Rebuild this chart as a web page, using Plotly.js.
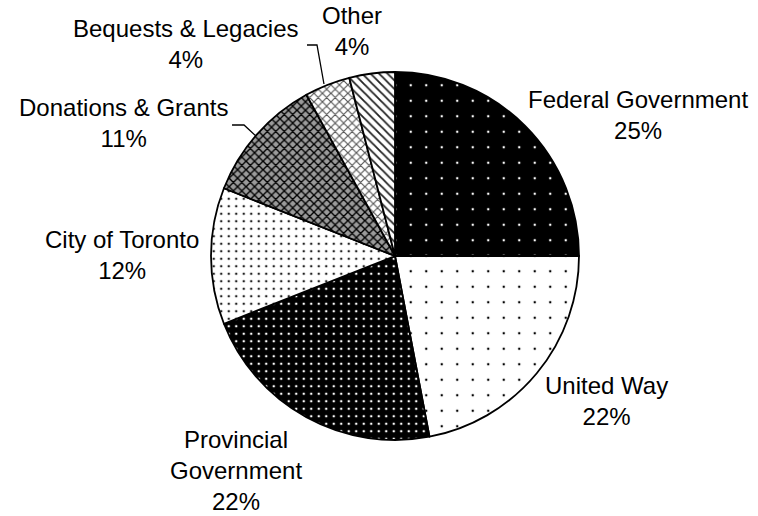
<!DOCTYPE html>
<html>
<head>
<meta charset="utf-8">
<script src="https://cdn.plot.ly/plotly-3.0.1.min.js"></script>
<style>html,body{margin:0;padding:0;background:#fff;}#chart{width:758px;height:516px;}</style>
</head>
<body>
<div id="chart"></div>
<script>
// Data
var categories = ["Federal Government", "United Way", "Provincial Government", "City of Toronto", "Donations & Grants", "Bequests & Legacies", "Other"];
var shares = [25, 22, 22, 12, 11, 4, 4];
// Label text (line breaks as in the reference)
var labelText = ["Federal Government", "United Way", "Provincial<br>Government", "City of Toronto", "Donations & Grants", "Bequests & Legacies", "Other"];

// Layout: label block centres in pixels (layout only)
var labelPos = [[638, 115], [606, 401], [236, 470], [122, 255], [123, 123], [185, 44], [352, 31]];

// Styles
var patShape = [".", ".", ".", ".", "x", "x", "\\"];
var patFg = ["#ffffff", "#000000", "#ffffff", "#222222", "#000000", "#555555", "#222222"];
var patBg = ["#000000", "#ffffff", "#000000", "#ffffff", "#9a9a9a", "#ffffff", "#ffffff"];
var patSize = [15.5, 15.5, 7.5, 7.5, 6, 6, 6];
var patSolid = [0.02, 0.02, 0.09, 0.09, 0.4, 0.35, 0.3];

var W = 758, H = 516;
var cx = 395, cy = 256, R = 184;

var trace = {
  type: "pie",
  labels: categories,
  values: shares,
  sort: false,
  direction: "clockwise",
  rotation: 0,
  textinfo: "none",
  hoverinfo: "label+percent",
  showlegend: false,
  domain: {x: [(cx - R) / W, (cx + R) / W], y: [1 - (cy + R) / H, 1 - (cy - R) / H]},
  marker: {
    colors: patBg,
    line: {color: "#000000", width: 1.8},
    pattern: {shape: patShape, fgcolor: patFg, bgcolor: patBg, size: patSize, solidity: patSolid, fillmode: "replace"}
  }
};

var annotations = categories.map(function (c, i) {
  return {
    xref: "paper", yref: "paper",
    x: labelPos[i][0] / W, y: 1 - labelPos[i][1] / H,
    xanchor: "center", yanchor: "middle",
    text: labelText[i] + "<br>" + shares[i] + "%",
    showarrow: false,
    font: {family: "Liberation Sans, Arial, sans-serif", size: 24, color: "#000000"}
  };
});

function px(x, y) { return (x / W).toFixed(4) + "," + (1 - y / H).toFixed(4); }
var shapes = [
  {type: "path", xref: "paper", yref: "paper", path: "M" + px(232, 125) + " L" + px(244, 125) + " L" + px(256, 136), line: {color: "#000", width: 1.3}},
  {type: "path", xref: "paper", yref: "paper", path: "M" + px(307, 45) + " L" + px(317, 45) + " L" + px(324, 84), line: {color: "#000", width: 1.3}}
];

var layout = {
  width: W, height: H,
  margin: {l: 0, r: 0, t: 0, b: 0},
  paper_bgcolor: "#ffffff",
  plot_bgcolor: "#ffffff",
  font: {family: "Liberation Sans, Arial, sans-serif", size: 24, color: "#000"},
  annotations: annotations,
  shapes: shapes
};

Plotly.newPlot("chart", [trace], layout, {displayModeBar: false, staticPlot: true});
</script>
</body>
</html>
